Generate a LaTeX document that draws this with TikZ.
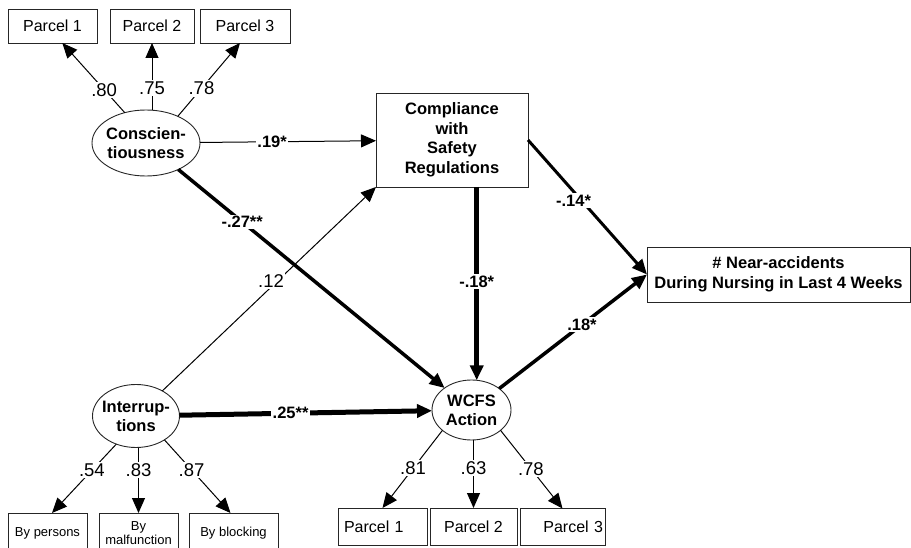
\documentclass[tikz,border=0pt]{standalone}
\usepackage{fontspec}
\setmainfont{Liberation Sans}
\usetikzlibrary{shapes.geometric,arrows.meta}
\begin{document}
\begin{tikzpicture}[x=1pt,y=-1pt,
  box/.style={draw=black!85, line width=0.9pt, rectangle, inner sep=0pt, outer sep=0pt, align=center},
  parcel/.style={box, font=\fontsize{16}{18}\selectfont},
  smallbox/.style={box, font=\fontsize{13}{14.5}\selectfont},
  boldbox/.style={box, font=\fontsize{16.5}{19.5}\selectfont\bfseries},
  lat/.style={draw=black!85, line width=0.9pt, ellipse, inner sep=-6pt, outer sep=0pt, align=center, font=\fontsize{16.5}{19}\selectfont\bfseries},
  lbl/.style={fill=white, inner sep=1.5pt, font=\fontsize{18.5}{20}\selectfont},
  blbl/.style={fill=white, inner sep=1.5pt, font=\fontsize{16.5}{18}\selectfont\bfseries},
  thinarr/.style={line width=1pt, -{Triangle[length=15pt,width=13pt]}},
  thickarr/.style={line width=#1, -{Triangle[length=15pt,width=13pt]}},
]
\useasboundingbox (0,0) rectangle (911,548);
\clip (0,0) rectangle (911,548);

% latent variables
\node[lat, minimum width=108pt, minimum height=66pt] (C) at (146,143) {Conscien-\\tiousness};
\node[lat, minimum width=87pt, minimum height=63pt] (I) at (136,416) {Interrup-\\tions};
\node[lat, minimum width=79pt, minimum height=60pt] (W) at (471.5,410) {WCFS\\Action};

% observed
\node[boldbox, minimum width=152pt, minimum height=94pt] (comp) at (452,140) {Compliance\\with\\Safety\\Regulations};
\node[boldbox, minimum width=263pt, minimum height=55pt] (near) at (778.5,274.5) {\# Near-accidents\\During Nursing in Last 4 Weeks};

% parcels
\node[parcel, minimum width=89pt, minimum height=34pt] (P1) at (52.5,26) {Parcel 1};
\node[parcel, minimum width=84pt, minimum height=34pt] (P2) at (152,26) {Parcel 2};
\node[parcel, minimum width=90pt, minimum height=34pt] (P3) at (245,26) {Parcel 3};

\node[smallbox, minimum width=79pt, minimum height=40pt] (BP) at (47.5,533) {By persons};
\node[smallbox, minimum width=79pt, minimum height=40pt] (BM) at (138.5,533) {By\\malfunction};
\node[smallbox, minimum width=89pt, minimum height=40pt] (BB) at (233.5,533) {By blocking};

\node[parcel, minimum width=89pt, minimum height=37pt, text width=85pt, align=left] (WP1) at (382.5,526.5) {\hspace*{4pt}Parcel 1};
\node[parcel, minimum width=87pt, minimum height=37pt] (WP2) at (473.5,526.5) {Parcel 2};
\node[parcel, minimum width=85pt, minimum height=37pt, text width=81pt, align=right] (WP3) at (562.5,527) {Parcel 3};

% loadings
\draw[thinarr] (C.125) -- node[lbl,pos=0.33]{.80} (P1.-60);
\draw[thinarr] (C.north -| P2.south) -- node[lbl,pos=0.33]{.75} (P2.south);
\draw[thinarr] (C.40) -- node[lbl,pos=0.38]{.78} ([xshift=-5pt]P3.south);

\draw[thinarr] (I.235) -- node[lbl,pos=0.38]{.54} ([xshift=4.5pt]BP.north);
\draw[thinarr] (I.south -| BM.north) -- node[lbl,pos=0.34]{.83} (BM.north);
\draw[thinarr] (I.-40) -- node[lbl,pos=0.41]{.87} ([xshift=-3pt]BB.north);

\draw[thinarr] (W.215) -- node[lbl,pos=0.49]{.81} (WP1.north);
\draw[thinarr] (W.south -| WP2.north) -- node[lbl,pos=0.41]{.63} (WP2.north);
\draw[thinarr] (W.-35) -- node[lbl,pos=0.49]{.78} (WP3.north);

% structural paths
\draw[thinarr] (C) -- node[blbl,pos=0.41]{.19*} (comp);
\draw[thickarr=3.5pt] (C) -- node[blbl,pos=0.24]{-.27**} (W);
\draw[thinarr] (I) -- node[lbl,pos=0.537,xshift=-6pt]{.12} (comp.south west);
\draw[thickarr=5pt] (I) -- node[blbl,pos=0.44]{.25**} (W);
\draw[thickarr=5pt] (comp.south -| W.80) -- node[blbl,pos=0.49]{-.18*} (W.80);
\draw[thickarr=3pt] (comp.east) -- node[blbl,pos=0.45,xshift=-8pt]{-.14*} (near.west);
\draw[thickarr=3.5pt] (W) -- node[blbl,pos=0.56]{.18*} (near.west);
\end{tikzpicture}
\end{document}
